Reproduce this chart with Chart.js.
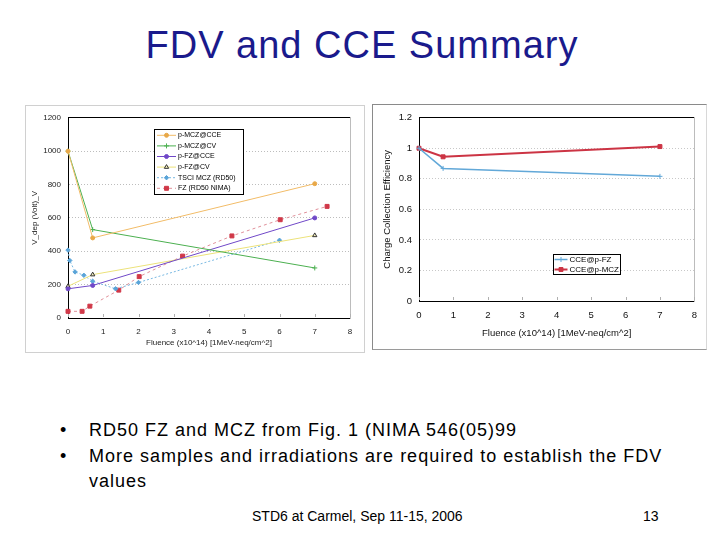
<!DOCTYPE html>
<html>
<head>
<meta charset="utf-8">
<script src="https://cdn.jsdelivr.net/npm/chart.js@4"></script>
<style>
  html, body { margin:0; padding:0; background:#fff; }
  body { width:720px; height:540px; position:relative; overflow:hidden; font-family:"Liberation Sans", Arial, sans-serif; }
  .title { position:absolute; left:0; top:26px; width:724px; text-align:center; font-size:38px; line-height:38px; letter-spacing:1px; color:#1a1a8c; }
  .box { position:absolute; background:#fff; }
  .box canvas { position:absolute; left:0; top:0; }
  .line { position:absolute; font-size:18px; line-height:18px; letter-spacing:1px; color:#000; white-space:nowrap; }
  .foot { position:absolute; font-size:14px; line-height:14px; color:#000; white-space:nowrap; }
</style>
</head>
<body>
<div class="title">FDV and CCE Summary</div>

<div class="box" id="leftBox" style="left:25px; top:105px; width:338px; height:246px; border:1px solid #d0d0d0;">
  <canvas id="leftChart" width="338" height="246"></canvas>
</div>
<div class="box" id="rightBox" style="left:372px; top:104px; width:333px; height:244px; border:1px solid #8a8a8a; border-right-color:#d8d8d8; border-bottom-color:#9a9a9a;">
  <canvas id="rightChart" width="333" height="244"></canvas>
</div>

<div class="line" style="left:60px; top:420.5px;">•</div>
<div class="line" style="left:89px; top:420.5px;">RD50 FZ and MCZ from Fig. 1 (NIMA 546(05)99</div>
<div class="line" style="left:60px; top:447px;">•</div>
<div class="line" style="left:89px; top:447px;">More samples and irradiations are required to establish the FDV</div>
<div class="line" style="left:89px; top:471.5px;">values</div>

<div class="foot" style="left:252px; top:509px;">STD6 at Carmel, Sep 11-15, 2006</div>
<div class="foot" style="left:643px; top:509px;">13</div>

<script>
// ---------- Data ----------
// Left chart: full depletion voltage vs fluence
const leftSeriesNames = ["p-MCZ@CCE", "p-MCZ@CV", "p-FZ@CCE", "p-FZ@CV", "TSCI MCZ (RD50)", "FZ (RD50 NIMA)"];
const fluenceOwn = [0, 0.7, 7];
const vMczCce = [1000, 480, 805];
const vMczCv = [1000, 530, 300];
const vFzCce = [175, 195, 600];
const vFzCv = [190, 260, 495];
const fluenceRd50Mcz = [0, 0.05, 0.2, 0.45, 0.7, 1.35, 2, 6];
const vRd50Mcz = [407, 345, 276, 256, 220, 175, 213, 466];
const fluenceRd50Fz = [0, 0.4, 0.62, 1.44, 2.02, 3.25, 4.65, 6.02, 7.35];
const vRd50Fz = [40, 40, 71, 167, 248, 371, 492, 589, 669];
const leftYTicks = [0, 200, 400, 600, 800, 1000, 1200];
const xTicks = [0, 1, 2, 3, 4, 5, 6, 7, 8];

// Right chart: charge collection efficiency vs fluence
const rightSeriesNames = ["CCE@p-FZ", "CCE@p-MCZ"];
const fluenceCce = [0, 0.7, 7];
const cceFz = [1.0, 0.868, 0.816];
const cceMcz = [1.0, 0.944, 1.011];
const rightYTicks = [0, 0.2, 0.4, 0.6, 0.8, 1, 1.2];

const xTitle = "Fluence (x10^14) [1MeV-neq/cm^2]";
const leftYTitle = "V_dep (Volt)_V";
const rightYTitle = "Charge Collection Efficiency";

function pts(xs, ys) { return xs.map((x, i) => ({ x: x, y: ys[i] })); }

// ---------- Plugins ----------
const plotTicks = {
  id: 'plotTicks',
  afterDraw(chart) {
    const a = chart.chartArea, ctx = chart.ctx;
    const xs = chart.scales.x;
    ctx.save();
    ctx.setLineDash([]);
    ctx.lineWidth = 1;
    ctx.strokeStyle = '#b0b0b0';
    xTicks.forEach(v => {
      const px = Math.round(xs.getPixelForValue(v)) + 0.5;
      ctx.beginPath(); ctx.moveTo(px, a.bottom - 1); ctx.lineTo(px, a.bottom - 4); ctx.stroke();
    });
    ctx.restore();
  }
};

const boxLegend = {
  id: 'boxLegend',
  afterDraw(chart, args, o) {
    if (!o || !o.display) return;
    const ctx = chart.ctx;
    ctx.save();
    ctx.setLineDash([]);
    ctx.fillStyle = '#fff';
    ctx.fillRect(o.x, o.y, o.w, o.h);
    ctx.strokeStyle = '#000';
    ctx.lineWidth = 1;
    ctx.strokeRect(o.x + 0.5, o.y + 0.5, o.w - 1, o.h - 1);
    ctx.font = o.font;
    ctx.textBaseline = 'middle';
    chart.data.datasets.forEach((ds, i) => {
      const cy = o.y + o.padTop + o.rowH * (i + 0.5);
      const x0 = o.x + o.sampleX, x1 = x0 + o.sampleW;
      ctx.save();
      ctx.strokeStyle = ds.borderColor;
      ctx.lineWidth = ds.borderWidth || 1;
      ctx.setLineDash(ds.borderDash || []);
      ctx.beginPath(); ctx.moveTo(x0, cy); ctx.lineTo(x1, cy); ctx.stroke();
      ctx.restore();
      ctx.save();
      ctx.setLineDash([]);
      ctx.fillStyle = ds.pointBackgroundColor;
      ctx.strokeStyle = ds.pointBorderColor;
      ctx.lineWidth = 1;
      Chart.helpers.drawPoint(ctx, { pointStyle: ds.pointStyle, radius: ds.pointRadius, rotation: 0, borderWidth: 1 }, (x0 + x1) / 2, cy);
      ctx.restore();
      ctx.fillStyle = '#000';
      ctx.fillText(ds.label, x1 + o.textGap, cy);
    });
    ctx.restore();
  }
};

function fixSize(prop, val) { return function (scale) { scale[prop] = val; }; }
const plainNum = (v) => String(Math.round(v * 1000) / 1000);

// frame axes (top black edge, right grey edge) drawn by the library
function frameAxes(xmin, xmax, ymin, ymax) {
  return {
    xTop: {
      type: 'linear', position: 'top', min: xmin, max: xmax, display: true,
      afterFit: fixSize('height', 0),
      ticks: { display: false }, grid: { drawOnChartArea: false, drawTicks: false },
      border: { display: true, color: '#000', width: 1 }
    },
    yRight: {
      type: 'linear', position: 'right', min: ymin, max: ymax, display: true,
      afterFit: fixSize('width', 0),
      ticks: { display: false }, grid: { drawOnChartArea: false, drawTicks: false },
      border: { display: true, color: '#bcbcbc', width: 1 }
    }
  };
}

const FONT = "'Liberation Sans', Arial, sans-serif";
function lineDs(label, data, color, opts) {
  return Object.assign({
    label: label, data: data, borderColor: color, backgroundColor: color,
    borderWidth: 1, pointRadius: 2, pointStyle: 'circle',
    pointBackgroundColor: color, pointBorderColor: color, pointBorderWidth: 1,
    tension: 0, fill: false, showLine: true, clip: false, xAxisID: 'x', yAxisID: 'y'
  }, opts || {});
}

// ---------- Left chart ----------
new Chart(document.getElementById('leftChart'), {
  type: 'scatter',
  data: {
    datasets: [
      lineDs(leftSeriesNames[0], pts(fluenceOwn, vMczCce), '#f2bc68', { pointBackgroundColor: '#e8a848', pointBorderColor: '#e8a848' }),
      lineDs(leftSeriesNames[1], pts(fluenceOwn, vMczCv), '#4cb050', { pointStyle: 'cross', pointRadius: 2.5 }),
      lineDs(leftSeriesNames[2], pts(fluenceOwn, vFzCce), '#7048c8'),
      lineDs(leftSeriesNames[3], pts(fluenceOwn, vFzCv), '#ece27a', { pointStyle: 'triangle', pointRadius: 2.5, pointBackgroundColor: '#f4f0c0', pointBorderColor: '#333' }),
      lineDs(leftSeriesNames[4], pts(fluenceRd50Mcz, vRd50Mcz), '#78b8e2', { borderDash: [2, 2], pointStyle: 'rectRot', pointRadius: 2.2, pointBackgroundColor: '#5aa4d8', pointBorderColor: '#5aa4d8' }),
      lineDs(leftSeriesNames[5], pts(fluenceRd50Fz, vRd50Fz), '#e0909a', { borderDash: [3, 3], pointStyle: 'rect', pointRadius: 2.8, pointBackgroundColor: '#d03848', pointBorderColor: '#d03848' })
    ]
  },
  options: {
    responsive: false, animation: false, devicePixelRatio: 1,
    layout: { padding: { left: 0, top: 11, right: 14, bottom: 0 } },
    plugins: {
      legend: { display: false }, tooltip: { enabled: false },
      boxLegend: { display: true, x: 128, y: 23, w: 90, h: 66, padTop: 1, rowH: 10.6, sampleX: 3, sampleW: 19, textGap: 2, font: "7px " + FONT }
    },
    scales: Object.assign({
      x: {
        type: 'linear', position: 'bottom', min: 0, max: 8,
        afterFit: fixSize('height', 34),
        afterBuildTicks: (s) => { s.ticks = xTicks.map(v => ({ value: v })); },
        ticks: { font: { size: 8, family: FONT }, color: '#222', padding: 9, callback: plainNum },
        grid: { display: true, drawOnChartArea: false, drawTicks: false },
        border: { color: '#000', width: 1 },
        title: { display: true, text: xTitle, font: { size: 8, family: FONT }, color: '#222', padding: { top: 0, bottom: 4 } }
      },
      y: {
        type: 'linear', position: 'left', min: 0, max: 1200,
        afterFit: fixSize('width', 42),
        afterBuildTicks: (s) => { s.ticks = leftYTicks.map(v => ({ value: v })); },
        ticks: { font: { size: 8, family: FONT }, color: '#222', padding: 7, callback: plainNum },
        grid: { color: '#bdbdbd', drawTicks: false },
        border: { color: '#000', width: 1, dash: [1, 2] },
        title: { display: true, text: leftYTitle, font: { size: 8, family: FONT }, color: '#222', padding: { top: 4, bottom: 0 } }
      }
    }, frameAxes(0, 8, 0, 1200))
  },
  plugins: [plotTicks, boxLegend]
});

// ---------- Right chart ----------
new Chart(document.getElementById('rightChart'), {
  type: 'scatter',
  data: {
    datasets: [
      lineDs(rightSeriesNames[0], pts(fluenceCce, cceFz), '#62a8d8', { borderWidth: 1.5, pointStyle: 'cross', pointRadius: 2.5 }),
      lineDs(rightSeriesNames[1], pts(fluenceCce, cceMcz), '#cc3444', { borderWidth: 2, pointStyle: 'rect', pointRadius: 2.8 })
    ]
  },
  options: {
    responsive: false, animation: false, devicePixelRatio: 1,
    layout: { padding: { left: 0, top: 12, right: 11, bottom: 0 } },
    plugins: {
      legend: { display: false }, tooltip: { enabled: false },
      boxLegend: { display: true, x: 180, y: 149, w: 68, h: 21, padTop: 0.5, rowH: 10, sampleX: 1.5, sampleW: 13, textGap: 2, font: "8px " + FONT }
    },
    scales: Object.assign({
      x: {
        type: 'linear', position: 'bottom', min: 0, max: 8,
        afterFit: fixSize('height', 48),
        afterBuildTicks: (s) => { s.ticks = xTicks.map(v => ({ value: v })); },
        ticks: { font: { size: 9.5, family: FONT }, color: '#111', padding: 9, callback: plainNum },
        grid: { display: true, drawOnChartArea: false, drawTicks: false },
        border: { color: '#000', width: 1 },
        title: { display: true, text: xTitle, font: { size: 9.5, family: FONT }, color: '#111', padding: { top: 0, bottom: 10 } }
      },
      y: {
        type: 'linear', position: 'left', min: 0, max: 1.2,
        afterFit: fixSize('width', 46),
        afterBuildTicks: (s) => { s.ticks = rightYTicks.map(v => ({ value: v })); },
        ticks: { font: { size: 9.5, family: FONT }, color: '#111', padding: 7, callback: plainNum },
        grid: { color: '#c8c8c8', drawTicks: false },
        border: { color: '#000', width: 1, dash: [1, 2] },
        title: { display: true, text: rightYTitle, font: { size: 9.5, family: FONT }, color: '#111', padding: { top: 9, bottom: 0 } }
      }
    }, frameAxes(0, 8, 0, 1.2))
  },
  plugins: [plotTicks, boxLegend]
});
</script>
</body>
</html>
